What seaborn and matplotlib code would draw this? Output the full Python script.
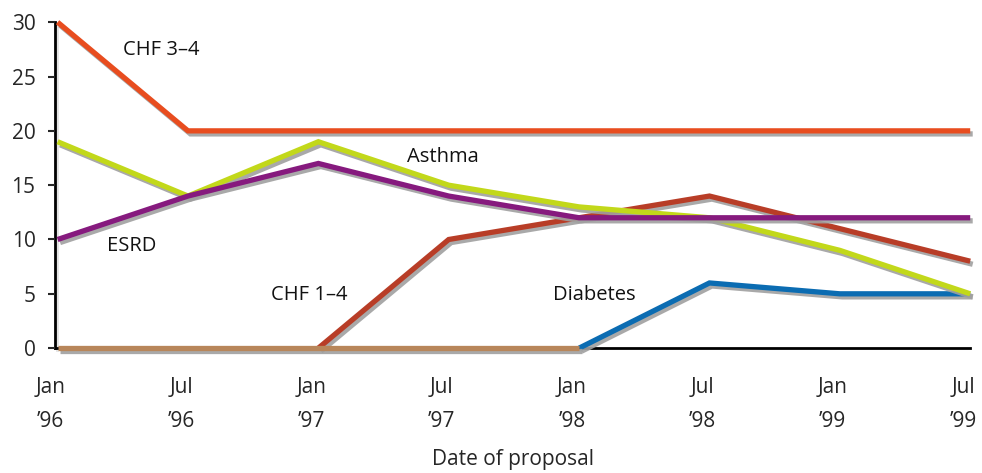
import numpy as np
import pandas as pd
import matplotlib
matplotlib.use("Agg")
import matplotlib.pyplot as plt
import matplotlib.patheffects as pe
import matplotlib.transforms as mtransforms
import seaborn as sns

periods = ["Jan\n\u201996", "Jul\n\u201996", "Jan\n\u201997", "Jul\n\u201997",
           "Jan\n\u201998", "Jul\n\u201998", "Jan\n\u201999", "Jul\n\u201999"]
chf34 = [30, 20, 20, 20, 20, 20, 20, 20]
asthma = [19, 14, 19, 15, 13, 12, 9, 5]
esrd = [10, 14, 17, 14, 12, 12, 12, 12]
chf14 = [np.nan, np.nan, 0, 10, 12, 14, 11, 8]
diabetes = [np.nan, np.nan, np.nan, np.nan, 0, 6, 5, 5]
baseline = [0, 0, 0, 0, 0, np.nan, np.nan, np.nan]

series = [
    ("Diabetes", diabetes, "#0b6cb2"),
    ("CHF 1\u20134", chf14, "#b83d27"),
    ("baseline", baseline, "#b8865a"),
    ("Asthma", asthma, "#c2d81a"),
    ("ESRD", esrd, "#861a7e"),
    ("CHF 3\u20134", chf34, "#e84d1f"),
]

x = np.arange(len(periods))
sns.set_style("white")
plt.rcParams['font.family'] = ['Open Sans', 'DejaVu Sans']

fig = plt.figure(figsize=(9.82, 4.73), dpi=100)
ax = fig.add_axes([0.056, 0.264, 0.932, 0.689])

shadow = [pe.SimpleLineShadow(offset=(1.8, -2.2), shadow_color="#a0a0a0", alpha=0.9), pe.Normal()]

for name, vals, col in series:
    df = pd.DataFrame({"x": x, "y": vals})
    sns.lineplot(data=df, x="x", y="y", color=col, linewidth=3.8, ax=ax)
    line = ax.lines[-1]
    line.set_clip_on(False)
    line.set_path_effects(shadow)
    line.set_solid_capstyle("butt")
    line.set_solid_joinstyle("miter")

ax.set_xlim(-0.02, 7.0)
ax.set_ylim(0, 30)
ax.set_yticks([0, 5, 10, 15, 20, 25, 30])
ax.set_xticks(x)
ax.set_xticklabels(periods, linespacing=1.8)
ax.tick_params(axis="y", labelsize=15, length=5, width=1.5, direction="out", left=True, pad=9)
ax.tick_params(axis="x", labelsize=15, length=0, pad=21)
offset = mtransforms.ScaledTranslation(-7 / 100, 0, fig.dpi_scale_trans)
for lab in ax.get_xticklabels():
    lab.set_transform(lab.get_transform() + offset)
ax.set_xlabel("Date of proposal", fontsize=15, labelpad=12)
ax.set_ylabel("")

for s in ["top", "right"]:
    ax.spines[s].set_visible(False)
for s in ["left", "bottom"]:
    ax.spines[s].set_color("black")
    ax.spines[s].set_linewidth(2)
    ax.spines[s].set_zorder(0.5)
ax.spines["left"].set_path_effects([pe.SimpleLineShadow(offset=(1.5, -1.5), shadow_color="#a0a0a0"), pe.Normal()])

labels = [("CHF 3\u20134", 0.50, 27.4), ("Asthma", 2.68, 17.6), ("ESRD", 0.38, 9.4),
          ("CHF 1\u20134", 1.64, 4.9), ("Diabetes", 3.80, 4.9)]
for txt, lx, ly in labels:
    ax.text(lx, ly, txt, fontsize=14.5, va="center", ha="left", color="#111111")

fig.savefig("out.png", dpi=100)
